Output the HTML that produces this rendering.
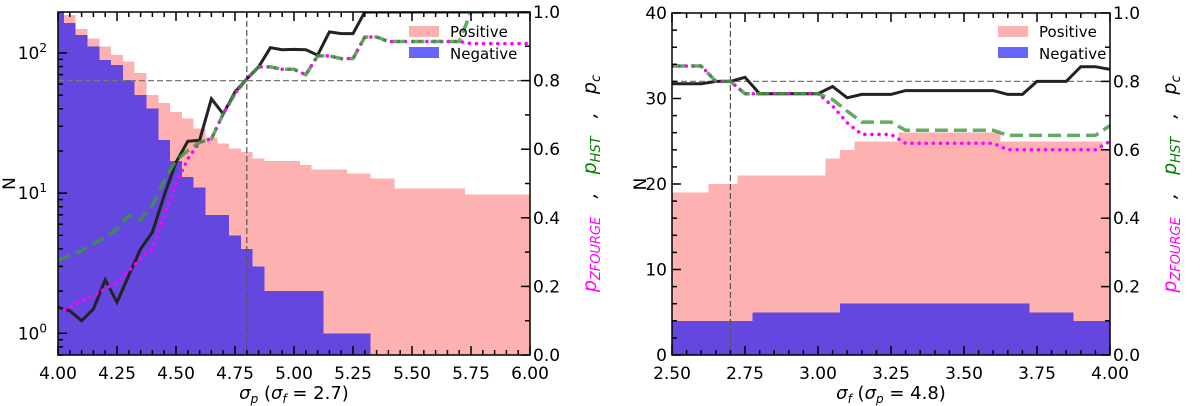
<!DOCTYPE html>
<html><head><meta charset="utf-8"><style>
body{margin:0;background:#fff;}
svg{display:block;font-family:"DejaVu Sans","Liberation Sans",sans-serif;}
</style></head><body>
<svg id="chart" width="1200" height="406" viewBox="0 0 1200 406" xmlns="http://www.w3.org/2000/svg"></svg>
<script>
// ---- Left panel data (sigma_p, sigma_f = 2.7) ----
const leftX = [4.00,4.05,4.10,4.15,4.20,4.25,4.30,4.35,4.40,4.45,4.50,4.55,4.60,4.65,4.70,4.75,4.80,4.85,4.90,4.95,5.00,5.05,5.10,5.15,5.20,5.25,5.30,5.35,5.40,5.45,5.50,5.55,5.60,5.65,5.70,5.75,5.80,5.85,5.90,5.95,6.00];
const leftPos = [187,187,148,127,111,97,87,72,50,44,38,34,29,25,22.6,20.8,19.7,17.7,17,17,17,15.9,14.8,14.8,14.8,13.8,13.8,12.7,12.7,10.8,10.8,10.8,10.8,10.8,10.8,9.8,9.8,9.8,9.8,9.8,9.8];
const leftNeg = [200,163,134,111,89,82,64,50,40,24,17,13,11,7,7,5,4,3,2,2,2,2,2,1,1,1,1,0,0,0,0,0,0,0,0,0,0,0,0,0,0];
const leftPc = [0.139,0.129,0.10,0.134,0.219,0.154,0.232,0.309,0.358,0.465,0.562,0.623,0.626,0.747,0.703,0.767,0.805,0.84,0.896,0.89,0.891,0.89,0.874,0.942,0.937,0.937,1,1,1,1,1,1,1,1,1,1,1,1,1,1,1];
const leftHst = [0.275,0.29,0.304,0.324,0.343,0.368,0.407,0.394,0.436,0.509,0.567,0.596,0.62,0.63,0.703,0.762,0.805,0.84,0.84,0.833,0.833,0.817,0.872,0.872,0.864,0.864,0.927,0.927,0.914,0.914,0.914,0.914,0.914,0.914,0.914,1,1,1,1,1,1];
const leftZf = [0.125,0.139,0.159,0.173,0.193,0.212,0.246,0.28,0.309,0.407,0.499,0.572,0.62,0.63,0.703,0.762,0.805,0.84,0.84,0.833,0.833,0.817,0.872,0.872,0.864,0.864,0.927,0.927,0.914,0.914,0.914,0.914,0.914,0.914,0.914,0.908,0.908,0.908,0.908,0.908,0.908];
const leftXTicks = ["4.00","4.25","4.50","4.75","5.00","5.25","5.50","5.75","6.00"];
// ---- Right panel data (sigma_f, sigma_p = 4.8) ----
const rightX = [2.50,2.55,2.60,2.65,2.70,2.75,2.80,2.85,2.90,2.95,3.00,3.05,3.10,3.15,3.20,3.25,3.30,3.35,3.40,3.45,3.50,3.55,3.60,3.65,3.70,3.75,3.80,3.85,3.90,3.95,4.00];
const rightPos = [19,19,19,20,20,21,21,21,21,21,21,23,24,25,25,25,26,26,26,26,26,26,26,25,25,25,25,25,25,25,24];
const rightNeg = [4,4,4,4,4,4,5,5,5,5,5,5,6,6,6,6,6,6,6,6,6,6,6,6,6,5,5,5,4,4,4];
const rightPc = [0.793,0.793,0.793,0.80,0.80,0.812,0.764,0.764,0.764,0.764,0.764,0.785,0.752,0.762,0.762,0.762,0.773,0.773,0.773,0.773,0.773,0.773,0.773,0.762,0.762,0.80,0.80,0.80,0.843,0.843,0.835];
const rightHst = [0.845,0.845,0.845,0.80,0.80,0.764,0.764,0.764,0.764,0.764,0.764,0.747,0.713,0.681,0.681,0.681,0.657,0.657,0.657,0.657,0.657,0.657,0.657,0.642,0.642,0.642,0.642,0.642,0.642,0.642,0.671];
const rightZf = [0.845,0.845,0.845,0.80,0.80,0.764,0.764,0.764,0.764,0.764,0.764,0.728,0.679,0.645,0.645,0.645,0.619,0.619,0.619,0.619,0.619,0.619,0.619,0.60,0.60,0.60,0.60,0.60,0.60,0.60,0.625];
const rightXTicks = ["2.50","2.75","3.00","3.25","3.50","3.75","4.00"];
const rightYTicks = [0,10,20,30,40];
const pTicks = ["0.0","0.2","0.4","0.6","0.8","1.0"];

const NS="http://www.w3.org/2000/svg";
const svg=document.getElementById('chart');
function el(tag,attrs,parent,text){const e=document.createElementNS(NS,tag);for(const k in attrs)e.setAttribute(k,attrs[k]);if(text!==undefined)e.textContent=text;(parent||svg).appendChild(e);return e;}

function panel(cfg){
  const {x0,x1,y0,y1,xmin,xmax}=cfg;
  const g=el('g',{});
  
  
  const sx=v=>x0+(v-xmin)/(xmax-xmin)*(x1-x0);
  const sp=v=>y1-v*(y1-y0);
  const sy=cfg.sy;
  const clip='clip-'+cfg.name;
  const cp=el('clipPath',{id:clip},g);el('rect',{x:x0,y:y0,width:x1-x0,height:y1-y0},cp);
  const body=el('g',{'clip-path':'url(#'+clip+')'},g);
  const xs=cfg.xs, h=(xs[1]-xs[0])/2;
  function hist(vals,color,name){
    let d='';
    for(let i=0;i<xs.length;i++){
      if(vals[i]<=0)continue;
      const a=sx(xs[i]-h),b=sx(xs[i]+h),t=sy(vals[i]);
      d+=`M${a},${y1}V${t}H${b}V${y1}Z`;
    }
    const p=el('path',{d:d,fill:color,'shape-rendering':'crispEdges'},body);
    
    
  }
  hist(cfg.pos,'#fdb1b1','positive-histogram');
  hist(cfg.neg,'#6447de','negative-histogram');
  function line(vals,style,name){
    const pts=xs.map((x,i)=>sx(x).toFixed(1)+','+sp(vals[i]).toFixed(1)).join(' ');
    const p=el('polyline',Object.assign({points:pts,fill:'none'},style),body);
    
    
  }
  const hl=el('line',{x1:x0,x2:x1,y1:sp(0.8),y2:sp(0.8),stroke:'#777','stroke-width':1.2,'stroke-dasharray':'6,3'},body);
  
  
  const vl=el('line',{x1:sx(cfg.vline),x2:sx(cfg.vline),y1:y0,y2:y1,stroke:'#555','stroke-width':1.2,'stroke-dasharray':'6,3'},body);
  
  
  line(cfg.pc,{stroke:'#222','stroke-width':3},'pc-line');
  line(cfg.zf,{stroke:'#ff00ff','stroke-width':3.5,'stroke-dasharray':'0.1,7','stroke-linecap':'round'},'pzfourge-line');
  line(cfg.hst,{stroke:'rgba(60,150,60,0.8)','stroke-width':3.5,'stroke-dasharray':'13,6'},'phst-line');
  el('rect',{x:x0,y:y0,width:x1-x0,height:y1-y0,fill:'none',stroke:'#000','stroke-width':1.5},g);
  const tk=el('g',{stroke:'#000','stroke-width':1.5},g);
  for(let v=xmin;v<=xmax+1e-9;v+=0.05){
    const major=Math.abs(Math.round(v/0.25)*0.25-v)<1e-6;
    const L=major?9:5,X=sx(v);
    el('line',{x1:X,x2:X,y1:y1,y2:y1-L},tk);el('line',{x1:X,x2:X,y1:y0,y2:y0+L},tk);
  }
  cfg.xticks.forEach(t=>{
    const e=el('text',{x:sx(+t),y:y1+24,'text-anchor':'middle','font-size':17},g,t);
    
    
  });
  for(let i=0;i<=10;i++){
    const Y=sp(i/10),L=i%2?5:9;
    el('line',{x1:x1,x2:x1-L,y1:Y,y2:Y},tk);
  }
  pTicks.forEach(t=>{
    const e=el('text',{x:x1+3,y:sp(+t)+6,'font-size':17},g,t);
    
    
  });
  cfg.leftAxis(g,tk);
  const xl=el('text',{x:(x0+x1)/2,y:y1+44,'text-anchor':'middle','font-size':18},g);
  xl.innerHTML=cfg.xlabel;
  
  
  const nl=el('text',{x:cfg.nx,y:(y0+y1)/2+6,'text-anchor':'middle','font-size':17,transform:`rotate(-90 ${cfg.nx} ${(y0+y1)/2})`},g,'N');
  
  
  const rx=x1+60, ry=(y0+y1)/2;
  const rl=el('text',{x:rx,y:ry+6,'text-anchor':'middle','font-size':19,'font-style':'italic',transform:`rotate(-90 ${rx} ${ry})`},g);
  rl.innerHTML='<tspan fill="#ff00ff">p<tspan font-size="13" dy="4">ZFOURGE</tspan></tspan><tspan dy="-4" fill="#000">\u00a0\u00a0\u00a0,\u00a0\u00a0\u00a0</tspan><tspan fill="#008000">p<tspan font-size="13" dy="4">HST</tspan></tspan><tspan dy="-4" fill="#000">\u00a0\u00a0\u00a0,\u00a0\u00a0\u00a0p<tspan font-size="13" dy="4">c</tspan></tspan>';
  
  
  const lg=el('g',{},g);
  
  
  const lx=cfg.legX;
  el('rect',{x:lx,y:26,width:30,height:11,fill:'#fdb1b1'},lg);
  el('text',{x:lx+41,y:37,'font-size':15},lg,'Positive');
  el('rect',{x:lx,y:47,width:30,height:11,fill:'#6666fc'},lg);
  el('text',{x:lx+41,y:59,'font-size':15},lg,'Negative');
}

const Ly0=12,Ly1=355,logMin=Math.log10(0.70),logMax=Math.log10(196);
const sLog=v=>Ly1-(Math.log10(v)-logMin)/(logMax-logMin)*(Ly1-Ly0);
panel({name:'left-panel',x0:58,x1:530,y0:Ly0,y1:Ly1,xmin:4,xmax:6,xs:leftX,pos:leftPos,neg:leftNeg,pc:leftPc,hst:leftHst,zf:leftZf,
  sy:v=>Math.max(sLog(v),Ly0-5),vline:4.8,xticks:leftXTicks,nx:9,legX:409,
  xlabel:'<tspan font-style="italic">σ<tspan font-size="12" dy="4">p</tspan></tspan><tspan dy="-4"> (</tspan><tspan font-style="italic">σ<tspan font-size="12" dy="4">f</tspan></tspan><tspan dy="-4"> = 2.7)</tspan>',
  leftAxis:(g,tk)=>{
    for(let d=-1;d<=2;d++)for(let m=1;m<=9;m++){
      const v=m*Math.pow(10,d);if(v<0.70||v>196)continue;
      const Y=sLog(v),L=m==1?9:5;el('line',{x1:58,x2:58+L,y1:Y,y2:Y},tk);
    }
    [0,1,2].forEach(d=>{
      const t=el('text',{x:47,y:sLog(Math.pow(10,d))+6,'text-anchor':'end','font-size':17},g);
      t.innerHTML='10<tspan font-size="12" dy="-7">'+d+'</tspan>';
      
      
    });
  }});
const Ry0=13,Ry1=355;
const sLin=v=>Ry1-v/40*(Ry1-Ry0);
panel({name:'right-panel',x0:672,x1:1110,y0:Ry0,y1:Ry1,xmin:2.5,xmax:4,xs:rightX,pos:rightPos,neg:rightNeg,pc:rightPc,hst:rightHst,zf:rightZf,
  sy:sLin,vline:2.7,xticks:rightXTicks,nx:640,legX:998,
  xlabel:'<tspan font-style="italic">σ<tspan font-size="12" dy="4">f</tspan></tspan><tspan dy="-4"> (</tspan><tspan font-style="italic">σ<tspan font-size="12" dy="4">p</tspan></tspan><tspan dy="-4"> = 4.8)</tspan>',
  leftAxis:(g,tk)=>{
    for(let v=0;v<=40;v+=2){const Y=sLin(v),L=v%10?5:9;el('line',{x1:672,x2:672+L,y1:Y,y2:Y},tk);}
    rightYTicks.forEach(v=>{
      const t=el('text',{x:667,y:sLin(v)+6,'text-anchor':'end','font-size':17},g,String(v));
      
      
    });
  }});
</script>
</body></html>
